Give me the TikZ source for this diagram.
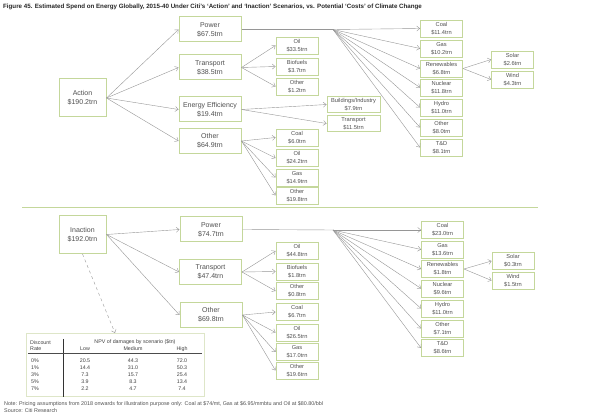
\documentclass[tikz,border=0pt]{standalone}
\usepackage{fontspec}
\setmainfont{Liberation Sans}
\usetikzlibrary{arrows.meta}
\definecolor{boxgreen}{RGB}{196,215,155}
\definecolor{tblgreen}{RGB}{222,230,200}
\definecolor{linegrey}{RGB}{150,150,150}
\definecolor{txtgrey}{RGB}{80,80,80}

\begin{document}
\begin{tikzpicture}[x=1pt,y=-1pt]
\tikzstyle{every node}=[text=txtgrey, align=center, inner sep=0pt]
\tikzstyle{big}=[draw=boxgreen, line width=1pt, fill=white, minimum width=62pt, minimum height=25pt, font=\fontsize{7}{9}\selectfont]
\tikzstyle{root}=[big, minimum width=47pt, minimum height=38pt]
\tikzstyle{small}=[draw=boxgreen, line width=0.9pt, fill=white, minimum width=42pt, minimum height=17pt, font=\fontsize{5.7}{7.8}\selectfont]
\tikzstyle{wide}=[small, minimum width=53pt, minimum height=16pt]
\tikzstyle{link}=[draw=linegrey, line width=0.4pt, -{Straight Barb[length=3pt,width=5pt]}]
\tikzstyle{cell}=[font=\fontsize{5.3}{6.3}\selectfont, text=black!75]
\useasboundingbox (0,0) rectangle (590,414);

\node[anchor=west, font=\bfseries\fontsize{6.2}{7}\selectfont, text=black!85] (title) at (3,7)
{Figure 45. Estimated Spend on Energy Globally, 2015-40 Under Citi’s ‘Action’ and ‘Inaction’ Scenarios, vs. Potential ‘Costs’ of Climate Change};

\node[root] (aact) at (82.5,98) {Action\\\$190.2trn};
\node[big] (apow) at (210,29.5) {Power\\\$67.5trn};
\node[big] (atra) at (210,67.5) {Transport\\\$38.5trn};
\node[big] (aeff) at (210,109.5) {Energy Efficiency\\\$19.4trn};
\node[big] (aoth) at (210,141) {Other\\\$64.9trn};

\node[small] (atoil) at (297,45.5) {Oil\\\$33.5trn};
\node[small] (atbio) at (297,66.5) {Biofuels\\\$3.7trn};
\node[small] (atoth) at (297,86.5) {Other\\\$1.2trn};

\node[small] (aocoal) at (297,137.5) {Coal\\\$6.0trn};
\node[small] (aooil) at (297,158) {Oil\\\$24.2trn};
\node[small] (aogas) at (297,177.5) {Gas\\\$14.9trn};
\node[small] (aooth) at (297,195.5) {Other\\\$19.8trn};

\node[wide] (aebui) at (353.5,104.5) {Buildings/Industry\\\$7.9trn};
\node[wide] (aetra) at (353.5,123.5) {Transport\\\$11.5trn};

\coordinate (apj) at (333,29.5);
\node[small] (apcoal) at (441.5,28.5) {Coal\\\$11.4trn};
\node[small] (apgas) at (441.5,48.5) {Gas\\\$10.2trn};
\node[small] (apren) at (441.5,68.5) {Renewables\\\$6.8trn};
\node[small] (apnuc) at (441.5,87.5) {Nuclear\\\$11.8trn};
\node[small] (aphyd) at (441.5,107.5) {Hydro\\\$11.0trn};
\node[small] (apoth) at (441.5,127.5) {Other\\\$8.0trn};
\node[small] (aptd) at (441.5,147.5) {T\&D\\\$8.1trn};
\node[small] (arsol) at (512.5,59.5) {Solar\\\$2.6trn};
\node[small] (arwin) at (512.5,79.5) {Wind\\\$4.3trn};

\draw[link] (aact.east) -- (apow.west);
\draw[link] (aact.east) -- (atra.west);
\draw[link] (aact.east) -- (aeff.west);
\draw[link] (aact.east) -- (aoth.west);
\draw[link] (atra.east) -- (atoil.west);
\draw[link] (atra.east) -- (atbio.west);
\draw[link] (atra.east) -- (atoth.west);
\draw[link] (aoth.east) -- (aocoal.west);
\draw[link] (aoth.east) -- (aooil.west);
\draw[link] (aoth.east) -- (aogas.west);
\draw[link] (aoth.east) -- (aooth.west);
\draw[link] (aeff.east) -- (aebui.west);
\draw[link] (aeff.east) -- (aetra.west);
\draw[draw=linegrey, line width=0.4pt] (apow.east) -- (apj);
\foreach \n in {coal,gas,ren,nuc,hyd,oth,td}
  \draw[link] (apj) -- (ap\n.west);
\draw[link] (apren.east) -- (arsol.west);
\draw[link] (apren.east) -- (arwin.west);

\draw[boxgreen, line width=1pt] (22,208) -- (538,208);

\node[root] (iact) at (82.5,234.5) {Inaction\\\$192.0trn};
\node[big] (ipow) at (211,229.5) {Power\\\$74.7trn};
\node[big] (itra) at (210.5,272) {Transport\\\$47.4trn};
\node[big] (ioth) at (211,315) {Other\\\$69.8trn};

\node[small] (itoil) at (297,251) {Oil\\\$44.8trn};
\node[small] (itbio) at (297,271.5) {Biofuels\\\$1.8trn};
\node[small] (itoth) at (297,291) {Other\\\$0.8trn};

\node[small] (iocoal) at (297,312) {Coal\\\$6.7trn};
\node[small] (iooil) at (297,332.5) {Oil\\\$26.5trn};
\node[small] (iogas) at (297,352) {Gas\\\$17.0trn};
\node[small] (iooth) at (297,370.5) {Other\\\$19.6trn};

\coordinate (ipj) at (333,230);
\node[small] (ipcoal) at (442.5,230) {Coal\\\$23.0trn};
\node[small] (ipgas) at (442.5,249.5) {Gas\\\$13.6trn};
\node[small] (ipren) at (442.5,269) {Renewables\\\$1.8trn};
\node[small] (ipnuc) at (442.5,288.5) {Nuclear\\\$9.6trn};
\node[small] (iphyd) at (442.5,308.5) {Hydro\\\$11.0trn};
\node[small] (ipoth) at (442.5,328.5) {Other\\\$7.1trn};
\node[small] (iptd) at (442.5,348) {T\&D\\\$8.6trn};
\node[small] (irsol) at (513,261) {Solar\\\$0.3trn};
\node[small] (irwin) at (513,280.5) {Wind\\\$1.5trn};

\draw[link] (iact.east) -- (ipow.west);
\draw[link] (iact.east) -- (itra.west);
\draw[link] (iact.east) -- (ioth.west);
\draw[link] (itra.east) -- (itoil.west);
\draw[link] (itra.east) -- (itbio.west);
\draw[link] (itra.east) -- (itoth.west);
\draw[link] (ioth.east) -- (iocoal.west);
\draw[link] (ioth.east) -- (iooil.west);
\draw[link] (ioth.east) -- (iogas.west);
\draw[link] (ioth.east) -- (iooth.west);
\draw[draw=linegrey, line width=0.4pt] (ipow.east) -- (ipj);
\foreach \n in {coal,gas,ren,nuc,hyd,oth,td}
  \draw[link] (ipj) -- (ip\n.west);
\draw[link] (ipren.east) -- (irsol.west);
\draw[link] (ipren.east) -- (irwin.west);

\node[draw=tblgreen, line width=0.6pt, minimum width=178pt, minimum height=63pt] (npv) at (115,364.5) {};
\coordinate (npvin) at (115,333);
\draw[link, dashed] (iact.south) -- (npvin);
\draw[line width=1pt, black!80] (63,339) -- (63,397);
\draw[line width=0.5pt, black!70] (28,353) -- (202,353);
\node[cell, anchor=west, align=left] (hrate) at (30,345.5) {Discount\\Rate};
\node[cell] (hnpv) at (135,342) {NPV of damages by scenario (\$tn)};
\node[cell] (hlow) at (85,349) {Low};
\node[cell] (hmed) at (133,349) {Medium};
\node[cell] (hhigh) at (182,349) {High};
\foreach \r/\a/\b/\c [count=\k] in {0\%/20.5/44.3/72.0, 1\%/14.4/31.0/50.3, 3\%/7.3/15.7/25.4, 5\%/3.9/8.3/13.4, 7\%/2.2/4.7/7.4}
{
  \node[cell, anchor=west] (rate\k) at (31,354+7*\k) {\r};
  \node[cell] (low\k) at (85,354+7*\k) {\a};
  \node[cell] (med\k) at (133,354+7*\k) {\b};
  \node[cell] (high\k) at (182,354+7*\k) {\c};
}

\node[anchor=west, font=\fontsize{5.4}{6}\selectfont] (note) at (4,404)
{Note: Pricing assumptions from 2018 onwards for illustration purpose only: Coal at \$74/mt, Gas at \$6.95/mmbtu and Oil at \$80.80/bbl};
\node[anchor=west, font=\fontsize{5.4}{6}\selectfont] (source) at (4,410.5) {Source: Citi Research};
\end{tikzpicture}
\end{document}
